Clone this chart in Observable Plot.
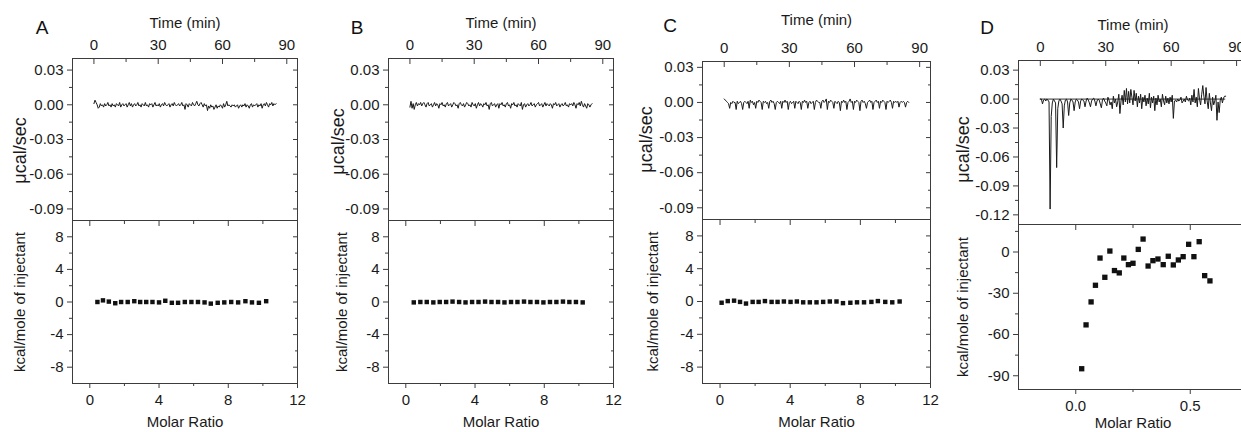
<!DOCTYPE html>
<html><head><meta charset="utf-8">
<script src="https://cdn.jsdelivr.net/npm/d3@7"></script>
<script src="https://cdn.jsdelivr.net/npm/@observablehq/plot@0.6"></script>
<style>
html,body{margin:0;padding:0;background:#fff;overflow:hidden;}
#fig{position:relative;width:1241px;height:432px;overflow:hidden;font-family:"Liberation Sans",Arial,sans-serif;color:#111;}
.sub{position:absolute;}
.letter{position:absolute;font-size:19px;line-height:1;transform:translate(-50%,-50%);}
</style></head><body><div id="fig"></div>
<script>
// ---------- data ----------
const panelLetters = ["A", "B", "C", "D"];
const timeLabel = ["Time (min)"];
const rawLabel = ["\u03bccal/sec"];
const heatLabel = ["kcal/mole of injectant"];
const molarLabel = ["Molar Ratio"];

const timeTicks = [0, 30, 60, 90];
const timeMinor = [15, 45, 75];
const rawTicksABC = [0.03, 0.00, -0.03, -0.06, -0.09];
const rawTicksD = [0.03, 0.00, -0.03, -0.06, -0.09, -0.12];
const rawMinorABC = [0.015, -0.015, -0.045, -0.075];
const rawMinorD = [0.015, -0.015, -0.045, -0.075, -0.105];
const heatTicksABC = [8, 4, 0, -4, -8];
const heatMinorABC = [6, 2, -2, -6];
const heatTicksD = [0, -30, -60, -90];
const heatMinorD = [15, -15, -45, -75];
const molarTicksABC = [0, 4, 8, 12];
const molarMinorABC = [2, 6, 10];
const molarTicksD = [0, 0.5];
const molarMinorD = [0.25];

// raw thermogram samples (µcal/sec), one every 0.5 min from t = 0
const rawTimeStart = 0, rawTimeStep = 0.5;
const rawA = [
 .001,.004,.002,.000,-.003,-.002,.001,-.001,.000,-.002,
 .001,-.001,.000,.002,-.001,.000,-.002,.001,-.001,.000,
 -.002,.001,.000,-.001,.002,-.002,.000,.001,-.001,.000,
 .001,-.002,.000,.002,-.001,.001,-.002,.000,.001,-.001,
 .000,.002,-.001,.000,-.002,.001,.000,-.001,.002,-.001,
 .000,-.002,.001,.000,.001,-.002,.000,.002,-.001,.000,
 -.001,.001,-.002,.000,.001,-.001,.002,.000,-.001,.000,
 .001,-.002,.000,.001,-.001,.002,.000,-.001,.000,.001,
 -.001,.000,.002,-.001,.000,-.004,.001,.000,-.002,.001,
 .000,-.001,.002,.000,-.001,.001,.003,.000,-.001,.001,
 .002,.000,-.002,.001,-.001,.000,-.005,-.001,-.003,.000,
 -.002,-.001,-.004,-.002,.000,-.003,-.001,-.002,.000,-.001,
 -.003,.001,-.002,.000,.003,-.001,.000,-.001,-.002,.000,
 -.001,.000,-.002,-.001,.000,-.003,-.001,.000,-.002,.000,
 -.001,.001,-.002,.000,-.001,-.003,.000,.001,-.002,.000,
 -.001,.000,.001,-.002,.000,-.001,.001,-.003,.000,.001,
 -.001,.002,.000,-.002,.001,.000,.002,-.001,.001,.000,
 .001];
const rawB = [
 -.002,.003,-.003,.001,-.004,.000,.002,-.001,.001,.000,
 .002,-.001,.001,.002,.000,-.002,.001,.002,-.001,.000,
 .001,-.002,.000,.002,-.001,.001,.000,-.003,.001,.000,
 .002,-.001,.000,-.002,.001,.002,-.001,.000,.001,-.002,
 .000,.002,.001,-.001,.000,-.003,.001,.002,.000,-.001,
 .001,-.002,.000,.002,.001,-.001,.000,-.002,.002,.000,
 -.001,.001,-.003,.000,.002,-.001,.001,.000,-.002,.001,
 .000,.002,-.001,.000,-.004,.001,.002,-.001,.000,.001,
 -.002,.000,.001,-.003,.001,.000,.002,-.001,.000,-.002,
 .001,.002,-.001,.000,-.003,.001,.000,.002,-.001,.000,
 -.002,.001,.000,-.001,.002,-.004,.000,.001,-.002,.000,
 .001,-.001,.000,.002,-.001,.000,.001,-.002,.000,.001,
 .002,-.001,.000,.001,-.002,.000,.002,-.001,.001,.000,
 -.001,.001,.000,-.003,.001,.000,.002,-.001,.000,.001,
 -.002,.000,.001,-.001,.000,.002,-.001,.000,-.002,.001,
 .000,.001,-.001,.002,.000,-.003,.001,.000,.002,-.001,
 .003,.000,-.002,.001,-.001,-.003,.001,.000,-.002,.000,
 .001];
const rawC = [
 .003,.002,.001,.000,-.001,-.005,.000,-.001,.001,.000,
 .000,-.006,.001,-.001,.000,.001,-.001,-.006,.000,.001,
 .000,-.001,.001,-.005,.002,.000,.001,-.002,.000,-.005,
 .001,.000,.002,.001,.000,-.006,.001,.000,.001,-.001,
 .000,-.005,.001,.002,.000,.001,-.001,-.006,.000,.001,
 .000,-.001,.001,-.005,.001,.000,.002,.000,.001,-.006,
 .000,.001,-.001,.000,.001,-.005,.001,.000,-.001,.001,
 .000,-.006,.001,.000,.002,.000,.001,-.005,.000,.001,
 -.001,.000,.001,-.006,.000,.002,.001,.000,.000,-.005,
 .001,.002,.000,.001,.003,-.006,.001,.000,.002,.001,
 .000,-.005,.001,.000,-.001,.001,.000,-.007,.001,.000,
 .002,.000,.001,-.006,.000,.001,.003,.000,.001,-.006,
 .001,.000,.002,.001,.000,-.007,.001,.002,.000,.001,
 -.001,-.005,.000,.001,.002,.000,.001,-.006,.000,.001,
 .002,.000,.001,-.005,.001,.000,.002,.001,.000,-.006,
 .001,.000,.001,.002,.000,-.005,.001,.000,.001,.000,
 .001,-.004,.000,.001,.000,.001,.000,-.004,.000,.001,
 .000];
const rawD = [
 .000,.000,-.005,-.001,.000,-.002,.000,-.001,-.003,-.114,
 -.018,-.004,.000,-.002,-.004,-.071,-.010,-.002,.000,-.002,
 -.005,-.030,-.007,-.001,.000,-.003,-.017,-.004,.000,-.001,
 -.003,-.012,-.003,.000,-.001,-.003,-.010,-.002,.000,-.001,
 -.002,-.008,-.002,.001,-.001,-.004,-.008,-.002,.000,.001,
 -.002,-.007,-.002,.000,-.001,-.005,-.009,-.001,.001,-.002,
 -.004,-.007,.002,-.001,-.006,-.003,-.010,.003,-.004,.000,
 -.008,-.003,.005,-.015,-.002,.004,-.006,.009,-.003,.011,
 -.005,.008,-.004,.010,.002,-.006,.009,-.002,.006,-.008,
 .003,-.004,.005,-.010,.002,-.003,.004,-.007,.001,-.005,
 .006,-.009,.002,-.004,.003,-.012,.001,-.006,.004,-.003,
 .000,-.008,.005,-.002,-.006,.003,-.004,.001,-.005,.002,
 -.003,.004,-.020,-.002,-.001,-.003,.000,-.002,-.001,.002,
 -.004,-.002,.000,-.003,.003,-.001,-.002,.001,-.006,.004,
 -.003,.010,-.004,.002,-.008,.011,.000,-.006,.005,.014,
 .003,-.005,.012,-.002,-.010,.006,-.004,-.012,.002,-.006,
 -.002,.004,-.022,-.003,-.014,-.001,.002,-.004,.001,.003,
 .003];
const baselineD = [{from: 0, to: 85, level: 0}];

// integrated heats (kcal/mole of injectant) vs molar ratio
const molarA = [0.44,0.76,1.10,1.47,1.81,2.19,2.57,2.91,3.26,3.62,4.00,4.36,4.74,5.10,5.49,5.87,6.25,6.63,6.99,7.39,7.77,8.17,8.57,8.99,9.37,9.77,10.19];
const heatA  = [0.0,0.2,0.05,-0.15,0.0,0.0,0.1,0.0,0.0,0.0,-0.05,0.15,-0.1,-0.1,0.0,0.0,0.0,-0.05,-0.2,-0.1,-0.05,0.0,-0.05,0.1,-0.05,-0.1,0.1];
const molarB = [0.46,0.84,1.21,1.59,1.96,2.33,2.70,3.08,3.45,3.83,4.20,4.58,4.95,5.33,5.70,6.08,6.45,6.83,7.20,7.58,7.95,8.33,8.70,9.08,9.45,9.83,10.22];
const heatB  = [-0.05,0.0,0.0,-0.05,0.0,0.0,0.05,0.0,-0.05,0.0,0.0,0.05,0.0,0.0,-0.05,0.0,0.0,0.05,0.0,0.0,-0.05,0.0,0.0,0.05,0.0,0.0,-0.05];
const molarC = [0.09,0.44,0.80,1.14,1.48,1.86,2.20,2.56,2.94,3.28,3.64,4.02,4.38,4.74,5.12,5.50,5.88,6.26,6.64,7.01,7.43,7.81,8.21,8.63,9.00,9.42,9.82,10.24];
const heatC  = [-0.15,0.05,0.1,-0.05,-0.25,-0.05,-0.05,0.05,-0.05,-0.05,0.0,-0.05,0.0,-0.1,-0.1,-0.1,-0.05,0.0,0.0,-0.2,-0.15,-0.1,-0.1,-0.05,0.05,-0.05,-0.1,0.0];
const molarD = [0.026,0.045,0.067,0.086,0.106,0.127,0.149,0.169,0.190,0.210,0.230,0.250,0.273,0.294,0.316,0.337,0.359,0.382,0.404,0.426,0.448,0.469,0.493,0.516,0.539,0.563,0.586];
const heatD  = [-84.9,-53,-36.3,-24.2,-4.4,-18.4,0.7,-13.5,-15.2,-4.4,-9.2,-8.2,1.9,9.4,-10.2,-6.3,-5.1,-9.2,-3.1,-9.4,-5.8,-3.4,5.6,-3.4,7.5,-17.2,-21];

// ---------- layout ----------
const ink = "#1a1a1a", frameInk = "#3c3c3c";
const panels = [
  {letter: panelLetters[0], raw: rawA, mx: molarA, hy: heatA, col: 0, w: 316, l: 72, r: 297, t: 58, m: 220, b: 383,
   lp: [42, 27], rawDom: [-0.1, 0.04], rawT: rawTicksABC, rawM: rawMinorABC, heatDom: [-10, 10], heatT: heatTicksABC, heatM: heatMinorABC,
   molDom: [-1, 12], molT: molarTicksABC, molM: molarMinorABC, molFmt: d => String(d), rawLab: [-52, 11], heatLab: [-52, 0], sym: 2.5, tl: -35, ml: 39},
  {letter: panelLetters[1], raw: rawB, mx: molarB, hy: heatB, col: 316, w: 316, l: 388, r: 613, t: 58, m: 220, b: 383,
   lp: [357, 27], rawDom: [-0.1, 0.04], rawT: rawTicksABC, rawM: rawMinorABC, heatDom: [-10, 10], heatT: heatTicksABC, heatM: heatMinorABC,
   molDom: [-1, 12], molT: molarTicksABC, molM: molarMinorABC, molFmt: d => String(d), rawLab: [-50, 2], heatLab: [-46, 0], sym: 2.5, tl: -35, ml: 39},
  {letter: panelLetters[2], raw: rawC, mx: molarC, hy: heatC, col: 632, w: 316, l: 702, r: 930, t: 61, m: 219, b: 383,
   lp: [670, 25], rawDom: [-0.1, 0.035], rawT: rawTicksABC, rawM: rawMinorABC, heatDom: [-10, 10], heatT: heatTicksABC, heatM: heatMinorABC,
   molDom: [-1, 12], molT: molarTicksABC, molM: molarMinorABC, molFmt: d => String(d), rawLab: [-56, -1], heatLab: [-49, 0], sym: 2.5, tl: -41, ml: 39},
  {letter: panelLetters[3], raw: rawD, mx: molarD, hy: heatD, col: 948, w: 320, l: 1018, r: 1247, t: 60, m: 224, b: 389,
   lp: [987, 27], rawDom: [-0.13, 0.04], rawT: rawTicksD, rawM: rawMinorD, heatDom: [-100, 20], heatT: heatTicksD, heatM: heatMinorD,
   molDom: [-0.25, 0.75], molT: molarTicksD, molM: molarMinorD, molFmt: d => d.toFixed(1), rawLab: [-55, 7], heatLab: [-55, 0], sym: 3.0, tl: -35, ml: 34, baseline: baselineD}
];

const fig = document.getElementById("fig");
const blank = () => "";
const baseStyle = {background: "transparent", fontFamily: "'Liberation Sans', Arial, sans-serif", fontSize: "15px", color: ink, overflow: "visible"};

function place(el, left, top) {
  el.classList.add("sub");
  el.style.left = left + "px";
  el.style.top = top + "px";
  fig.appendChild(el);
}

for (const p of panels) {
  const raw = p.raw.map((v, i) => ({t: rawTimeStart + i * rawTimeStep, v}));
  const topH = p.m + 1;
  const top = Plot.plot({
    width: p.w, height: topH,
    marginLeft: p.l - p.col, marginRight: p.col + p.w - p.r, marginTop: p.t, marginBottom: 1,
    style: baseStyle,
    x: {domain: [-10, 95]},
    y: {domain: p.rawDom},
    marks: [
      p.baseline ? Plot.ruleY(p.baseline, {y: "level", x1: "from", x2: "to", stroke: ink, strokeWidth: 0.9}) : null,
      Plot.line(raw, {x: "t", y: "v", stroke: ink, strokeWidth: 1}),
      Plot.frame({stroke: frameInk}),
      Plot.axisX({anchor: "top", ticks: timeTicks, tickSize: -5, tickFormat: blank, label: null, stroke: frameInk}),
      Plot.axisX({anchor: "top", ticks: timeMinor, tickSize: -3, tickFormat: blank, label: null, stroke: frameInk}),
      Plot.axisX({anchor: "top", ticks: timeTicks, tickSize: 0, tickPadding: 9, label: null}),
      Plot.axisY({anchor: "left", ticks: p.rawT, tickSize: 5, tickPadding: 4, tickFormat: d => d.toFixed(2), label: null, stroke: frameInk}),
      Plot.axisY({anchor: "left", ticks: p.rawM, tickSize: 3, tickFormat: blank, label: null, stroke: frameInk}),
      Plot.axisY({anchor: "right", ticks: p.rawT, tickSize: -5, tickFormat: blank, label: null, stroke: frameInk}),
      Plot.axisY({anchor: "right", ticks: p.rawM, tickSize: -3, tickFormat: blank, label: null, stroke: frameInk}),
      Plot.text(timeLabel, {text: d => d, frameAnchor: "top", dy: p.tl, textAnchor: "middle", lineAnchor: "middle", fontSize: 15, fill: ink}),
      Plot.text(rawLabel, {text: d => d, frameAnchor: "left", dx: p.rawLab[0], dy: p.rawLab[1], rotate: -90, textAnchor: "middle", lineAnchor: "middle", fontSize: 18, fill: ink})
    ]
  });
  place(top, p.col, 0);

  const pts = p.mx.map((x, i) => ({x, y: p.hy[i]}));
  const bTop = p.m - 1;
  const bottom = Plot.plot({
    width: p.w, height: 432 - bTop + 20,
    marginLeft: p.l - p.col, marginRight: p.col + p.w - p.r, marginTop: 1, marginBottom: 432 - p.b + 20,
    style: baseStyle,
    x: {domain: p.molDom},
    y: {domain: p.heatDom},
    marks: [
      Plot.frame({stroke: frameInk}),
      Plot.axisX({anchor: "bottom", ticks: p.molT, tickSize: 5, tickPadding: 6, tickFormat: p.molFmt, label: null, stroke: frameInk}),
      Plot.axisX({anchor: "bottom", ticks: p.molM, tickSize: 3, tickFormat: blank, label: null, stroke: frameInk}),
      Plot.axisX({anchor: "top", ticks: p.molT, tickSize: -5, tickFormat: blank, label: null, stroke: frameInk}),
      Plot.axisX({anchor: "top", ticks: p.molM, tickSize: -3, tickFormat: blank, label: null, stroke: frameInk}),
      Plot.axisY({anchor: "left", ticks: p.heatT, tickSize: 5, tickPadding: 4, tickFormat: d => String(d), label: null, stroke: frameInk}),
      Plot.axisY({anchor: "left", ticks: p.heatM, tickSize: 3, tickFormat: blank, label: null, stroke: frameInk}),
      Plot.axisY({anchor: "right", ticks: p.heatT, tickSize: -5, tickFormat: blank, label: null, stroke: frameInk}),
      Plot.axisY({anchor: "right", ticks: p.heatM, tickSize: -3, tickFormat: blank, label: null, stroke: frameInk}),
      Plot.dot(pts, {x: "x", y: "y", symbol: "square", r: p.sym, fill: "#111", stroke: "none"}),
      Plot.text(molarLabel, {text: d => d, frameAnchor: "bottom", dy: p.ml, textAnchor: "middle", lineAnchor: "middle", fontSize: 15, fill: ink}),
      Plot.text(heatLabel, {text: d => d, frameAnchor: "left", dx: p.heatLab[0], dy: p.heatLab[1], rotate: -90, textAnchor: "middle", lineAnchor: "middle", fontSize: 15, fill: ink})
    ]
  });
  place(bottom, p.col, bTop);

  const lt = document.createElement("div");
  lt.className = "letter";
  lt.textContent = p.letter;
  lt.style.left = p.lp[0] + "px";
  lt.style.top = p.lp[1] + "px";
  fig.appendChild(lt);
}
</script></body></html>
